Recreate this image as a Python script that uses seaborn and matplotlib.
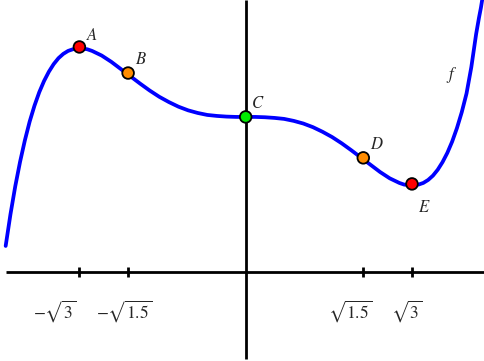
import matplotlib
matplotlib.use("Agg")
import matplotlib.pyplot as plt
import seaborn as sns
import numpy as np
import pandas as pd

# curve f, values
curve_x = [-2.5, -2.45, -2.4, -2.35, -2.3, -2.25, -2.2, -2.15, -2.1, -2.05, -2.0, -1.95,
           -1.9, -1.85, -1.8, -1.75, -1.7, -1.65, -1.6, -1.5, -1.4, -1.3,
           -1.2, -1.1, -1.0, -0.9, -0.8, -0.7, -0.6, -0.5, -0.4, -0.3, -0.2, -0.1, 0.0,
           0.1, 0.2, 0.3, 0.4, 0.5, 0.6, 0.7, 0.8, 0.9, 1.0, 1.1, 1.2, 1.3, 1.4, 1.5,
           1.6, 1.65, 1.7, 1.75, 1.8, 1.85, 1.9, 1.95, 2.0, 2.05, 2.1, 2.15, 2.2, 2.25,
           2.3, 2.35, 2.375, 2.4, 2.43, 2.45, 2.5]
curve_y = [0.78, 1.74, 2.59, 3.33, 3.98, 4.55, 5.03, 5.44, 5.78, 6.06, 6.29, 6.47,
           6.60, 6.69, 6.74, 6.77, 6.76, 6.74, 6.69, 6.55, 6.36, 6.14,
           5.92, 5.70, 5.49, 5.30, 5.14, 5.00, 4.89, 4.81, 4.75, 4.72, 4.70, 4.69, 4.69,
           4.69, 4.68, 4.66, 4.63, 4.57, 4.49, 4.38, 4.24, 4.08, 3.89, 3.68, 3.46, 3.24,
           3.02, 2.83, 2.69, 2.64, 2.62, 2.61, 2.64, 2.69, 2.78, 2.91, 3.09, 3.32, 3.60,
           3.94, 4.35, 4.83, 5.40, 6.20, 6.70, 7.20, 7.70, 8.00, 8.90]

# marked points
point_names = ["A", "B", "C", "D", "E"]
point_x = [-1.732, -1.2247, 0.0, 1.2247, 1.732]
point_y = [6.81, 6.02, 4.69, 3.45, 2.66]
point_kind = ["extremum", "inflection", "flat", "inflection", "extremum"]

# x-axis ticks
tick_values = [-1.732, -1.2247, 1.2247, 1.732]
tick_labels = [r"$-\sqrt{3}$", r"$-\sqrt{1.5}$", r"$\sqrt{1.5}$", r"$\sqrt{3}$"]

sns.set_style("white")
plt.rcParams["mathtext.fontset"] = "stix"
plt.rcParams["font.family"] = ["Liberation Serif", "DejaVu Serif"]

fig = plt.figure(figsize=(4.84, 3.61), dpi=100)
ax = fig.add_axes([0, 0, 1, 1])
ax.set_xlim(-2.559, 2.482)
ax.set_ylim(-2.706, 8.233)
ax.axis("off")

# axes lines
ax.plot([-2.5, 2.482], [0, 0], color="black", lw=2.0, zorder=1, solid_capstyle="butt")
ax.plot([0, 0], [-2.65, 8.233], color="black", lw=2.0, zorder=1, solid_capstyle="butt")
ax.vlines(tick_values, -0.15, 0.15, color="black", lw=2.0, zorder=1)

label_pos = [(-1.986, -1.19), (-1.268, -1.19), (1.086, -1.19), (1.68, -1.19)]
for lab, (tx, ty) in zip(tick_labels, label_pos):
    ax.text(tx, ty, lab, fontsize=12.5, ha="center", va="center")

df = pd.DataFrame({"x": curve_x, "y": curve_y})
sns.lineplot(data=df, x="x", y="y", sort=False, estimator=None, color="#0000ff",
             lw=2.7, ax=ax, zorder=2)
ax.lines[-1].set_solid_joinstyle("round")

pts = pd.DataFrame({"x": point_x, "y": point_y, "name": point_names, "kind": point_kind})
palette = {"extremum": "#ff0000", "inflection": "#ff8c00", "flat": "#00ee00"}
sns.scatterplot(data=pts, x="x", y="y", hue="kind", palette=palette, s=70,
                edgecolor="black", linewidth=1.3, ax=ax, zorder=3, legend=False)

name_pos = {"A": (-1.604, 7.15), "B": (-1.091, 6.415), "C": (0.128, 5.08),
            "D": (1.368, 3.84), "E": (1.857, 1.93)}
for n in point_names:
    tx, ty = name_pos[n]
    ax.text(tx, ty, "$" + n + "$", fontsize=12, ha="center", va="center")
ax.text(2.149, 5.96, "$f$", fontsize=12, ha="center", va="center")

ax.set_xlabel("")
ax.set_ylabel("")
fig.savefig("out.png", dpi=100)
